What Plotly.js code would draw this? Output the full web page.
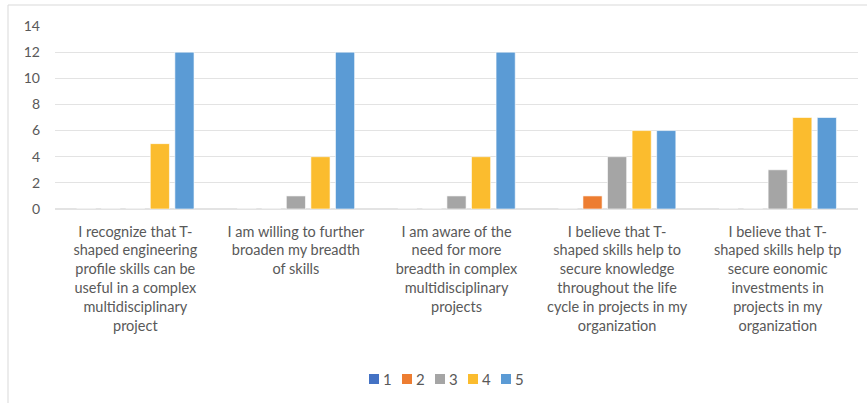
<!DOCTYPE html>
<html>
<head>
<meta charset="utf-8">
<script src="https://cdn.plot.ly/plotly-3.0.1.min.js"></script>
<style>html,body{margin:0;padding:0;background:#fff;}#chart{width:867px;height:403px;}</style>
</head>
<body>
<div id="chart"></div>
<script>
const categories = [
  "I recognize that T-<br>shaped engineering<br>profile skills can be<br>useful in a complex<br>multidisciplinary<br>project",
  "I am willing to further<br>broaden my breadth<br>of skills",
  "I am aware of the<br>need for more<br>breadth in complex<br>multidisciplinary<br>projects",
  "I believe that T-<br>shaped skills help to<br>secure knowledge<br>throughout the life<br>cycle in projects in my<br>organization",
  "I believe that T-<br>shaped skills help tp<br>secure eonomic<br>investments in<br>projects in my<br>organization"
];
const seriesNames = ["1", "2", "3", "4", "5"];
const values1 = [0, 0, 0, 0, 0];
const values2 = [0, 0, 0, 1, 0];
const values3 = [0, 1, 1, 4, 3];
const values4 = [5, 4, 4, 6, 7];
const values5 = [12, 12, 12, 6, 7];
const yTicks = [0, 2, 4, 6, 8, 10, 12, 14];

const colors = ["#4472C4", "#ED7D31", "#A5A5A5", "#FBBC2E", "#5B9BD5"];
const allValues = [values1, values2, values3, values4, values5];

const traces = allValues.map((v, i) => ({
  type: "bar",
  name: seriesNames[i],
  x: categories,
  y: v,
  marker: {color: colors[i], line: {color: "rgba(255,255,255,0.6)", width: 1}},
  hoverinfo: "none",
  showlegend: false
}));

// plot-area geometry (pixels) for placing the compact legend in paper coords
const W = 867, H = 403, ML = 55, MR = 9, MT = 26, MB = 194;
const PW = W - ML - MR, PH = H - MT - MB;
const px = x => (x - ML) / PW;
const py = y => (H - MB - y) / PH;

const legendShapes = [], legendAnnots = [];
const legStart = 369, legPitch = 33, legBox = 10, legY = 379;
seriesNames.forEach((name, i) => {
  const x0 = legStart + i * legPitch;
  legendShapes.push({
    type: "rect", xref: "paper", yref: "paper",
    x0: px(x0), x1: px(x0 + legBox), y0: py(legY + legBox / 2), y1: py(legY - legBox / 2),
    fillcolor: colors[i], line: {width: 0}
  });
  legendAnnots.push({
    xref: "paper", yref: "paper", x: px(x0 + legBox + 2), y: py(legY),
    xanchor: "left", yanchor: "middle", text: name, showarrow: false,
    font: {size: 15, color: "#595959"}
  });
});

const layout = {
  width: W, height: H,
  margin: {l: ML, r: MR, t: MT, b: MB},
  paper_bgcolor: "#fff", plot_bgcolor: "#fff",
  barmode: "group",
  bargap: 0.235,
  bargroupgap: 0.22,
  font: {family: "Lato, 'Open Sans', sans-serif", size: 13, color: "#595959"},
  xaxis: {
    type: "category",
    showgrid: false, showline: false, zeroline: false,
    ticks: "", tickangle: 0, automargin: false, ticklabelstandoff: 12,
    tickfont: {size: 14.5, color: "#595959"}
  },
  yaxis: {
    range: [0, 14], tickvals: yTicks, ticktext: yTicks.map(String),
    showgrid: true, gridcolor: "#E3E3E3", gridwidth: 1.2,
    zeroline: true, zerolinecolor: "#E3E3E3", zerolinewidth: 1.2,
    showline: false, ticks: "", ticklabelstandoff: 14,
    tickfont: {size: 14, color: "#595959"}
  },
  showlegend: false,
  annotations: legendAnnots,
  shapes: [{
    type: "rect", xref: "paper", yref: "paper",
    x0: px(8), x1: px(W + 5), y0: py(H + 5), y1: py(5),
    line: {color: "#D9D9D9", width: 1}, fillcolor: "rgba(0,0,0,0)", layer: "below"
  }].concat(legendShapes)
};

Plotly.newPlot("chart", traces, layout, {displayModeBar: false, staticPlot: true});
</script>
</body>
</html>
